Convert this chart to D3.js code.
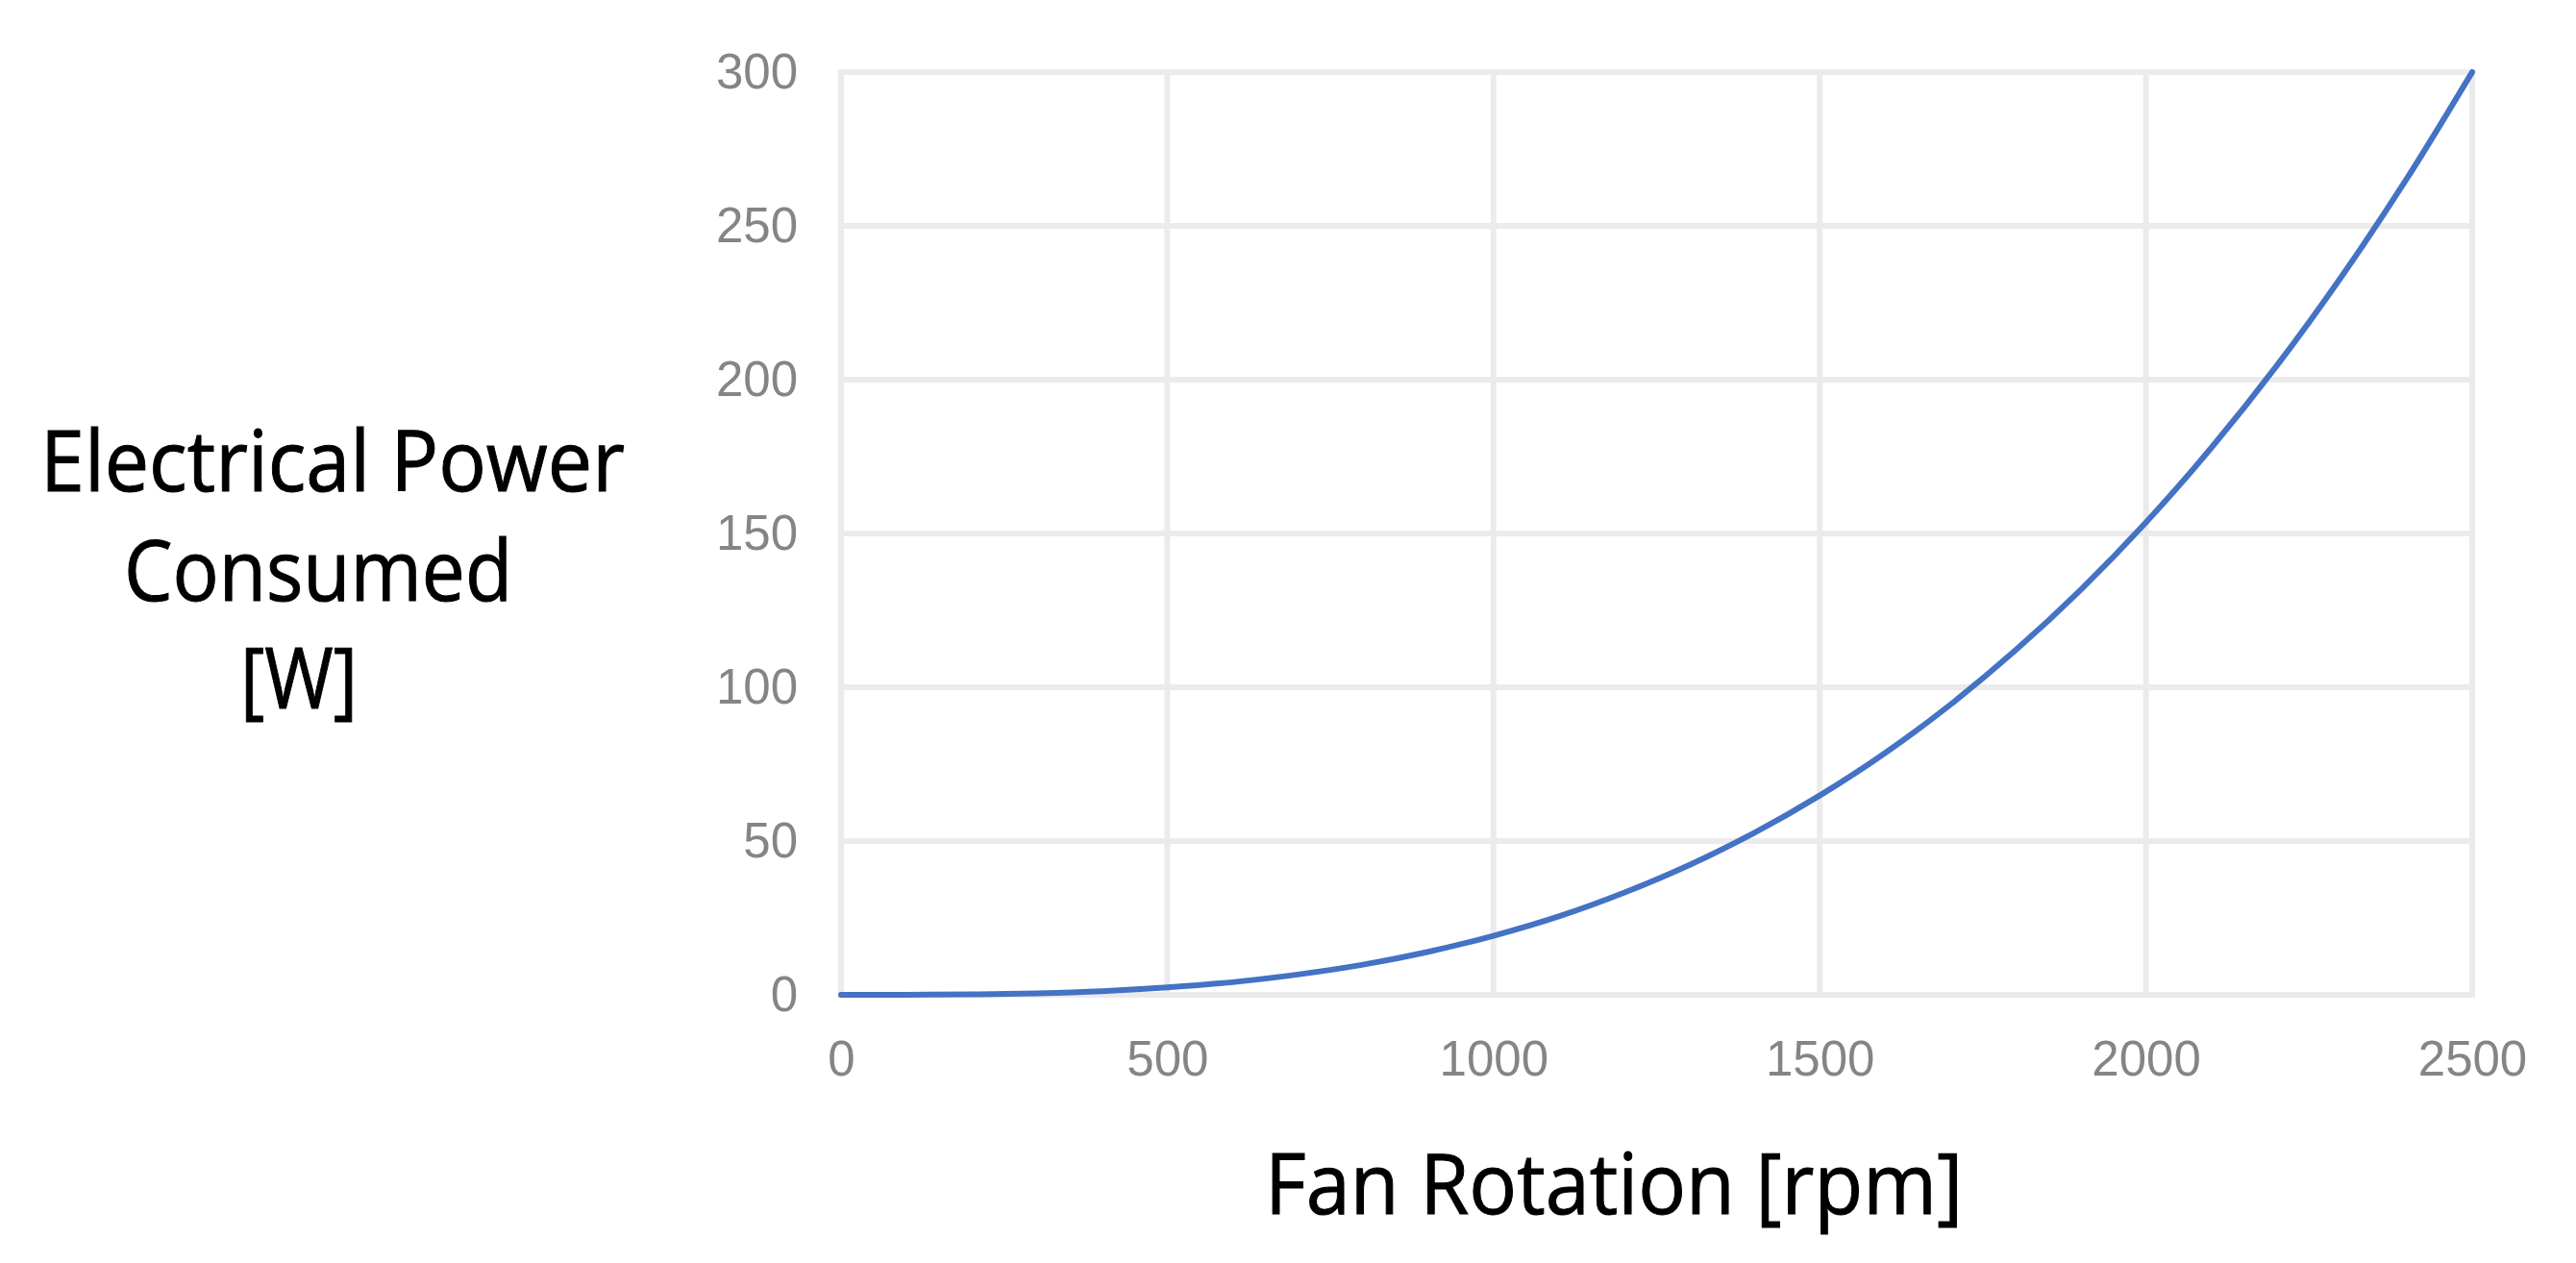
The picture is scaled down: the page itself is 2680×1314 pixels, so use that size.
<!DOCTYPE html>
<html>
<head>
<meta charset="utf-8">
<script src="https://cdn.jsdelivr.net/npm/d3@7"></script>
<style>
  body { margin: 0; background: #fff; }
  svg { display: block; }
</style>
</head>
<body>
<svg id="chart" width="2680" height="1314"></svg>
<script>
// fan speed [rpm] and electrical power [W]
const rpm = [0, 100, 200, 300, 400, 500, 600, 700, 800, 900, 1000, 1100, 1200,
	1300, 1400, 1500, 1600, 1700, 1800, 1900, 2000, 2100, 2200, 2300, 2400, 2500];
const power = [0, 0.02, 0.15, 0.5, 1.2, 2.4, 4.1, 6.6, 9.8, 14, 19.2, 25.5, 33.2,
	42.2, 52.7, 64.8, 78.6, 94.3, 112, 131.7, 153.6, 177.8, 204.4, 233.6, 265.4, 300];

const xTicks = [0, 500, 1000, 1500, 2000, 2500];
const yTicks = [0, 50, 100, 150, 200, 250, 300];

const yTitleLines = ["Electrical Power", "Consumed", "[W]"];
const xTitle = "Fan Rotation [rpm]";

var svg = d3.select("#chart");

var x = d3.scaleLinear().domain([0, 2500]).range([875, 2572]);
var y = d3.scaleLinear().domain([0, 300]).range([1035, 75]);

// grid
var grid = svg.append("g").attr("class", "grid");
grid.selectAll("line.h")
	.data(yTicks)
	.enter().append("line")
	.attr("class", "h")
	.attr("x1", x(0) - 3).attr("x2", x(2500) + 3)
	.attr("y1", d => y(d)).attr("y2", d => y(d))
	.attr("stroke", "#ebebeb")
	.attr("stroke-width", 6);
grid.selectAll("line.v")
	.data(xTicks)
	.enter().append("line")
	.attr("class", "v")
	.attr("y1", y(0) + 3).attr("y2", y(300) - 3)
	.attr("x1", d => x(d)).attr("x2", d => x(d))
	.attr("stroke", "#ebebeb")
	.attr("stroke-width", 6);

// axes, labels only
var yAxis = d3.axisLeft(y).tickValues(yTicks).tickSize(0).tickPadding(45);
var xAxis = d3.axisBottom(x).tickValues(xTicks).tickFormat(d3.format("d"))
	.tickSize(0).tickPadding(48);

svg.append("g")
	.attr("transform", "translate(" + x(0) + ",0)")
	.call(yAxis)
	.call(g => g.select(".domain").remove())
	.selectAll("text")
	.attr("font-family", "'Liberation Sans', Arial, sans-serif")
	.attr("font-size", 51)
	.attr("fill", "#858585");

svg.append("g")
	.attr("transform", "translate(0," + y(0) + ")")
	.call(xAxis)
	.call(g => g.select(".domain").remove())
	.selectAll("text")
	.attr("font-family", "'Liberation Sans', Arial, sans-serif")
	.attr("font-size", 51)
	.attr("fill", "#858585");

// curve
var line = d3.line()
	.x((d, i) => x(rpm[i]))
	.y(d => y(d))
	.curve(d3.curveMonotoneX);

svg.append("path")
	.datum(power)
	.attr("d", line)
	.attr("fill", "none")
	.attr("stroke", "#4472c4")
	.attr("stroke-width", 6)
	.attr("stroke-linecap", "round");

// titles
var titleFont = "'Open Sans', 'Noto Sans', sans-serif";
// [centre x, baseline y, width]
var yTitlePos = [[346, 511, 608], [331, 625, 404], [311, 737, 122]];
svg.append("g")
	.selectAll("text")
	.data(yTitleLines)
	.enter().append("text")
	.attr("x", (d, i) => yTitlePos[i][0])
	.attr("y", (d, i) => yTitlePos[i][1])
	.attr("text-anchor", "middle")
	.attr("textLength", (d, i) => yTitlePos[i][2])
	.attr("lengthAdjust", "spacingAndGlyphs")
	.attr("font-family", titleFont)
	.attr("font-size", 88)
	.attr("fill", "#000")
	.attr("stroke", "#000")
	.attr("stroke-width", 1)
	.text(d => d);

svg.append("text")
	.attr("x", 1679)
	.attr("y", 1263)
	.attr("text-anchor", "middle")
	.attr("textLength", 726)
	.attr("lengthAdjust", "spacingAndGlyphs")
	.attr("font-family", titleFont)
	.attr("font-size", 88)
	.attr("fill", "#000")
	.attr("stroke", "#000")
	.attr("stroke-width", 1)
	.text(xTitle);
</script>
</body>
</html>
